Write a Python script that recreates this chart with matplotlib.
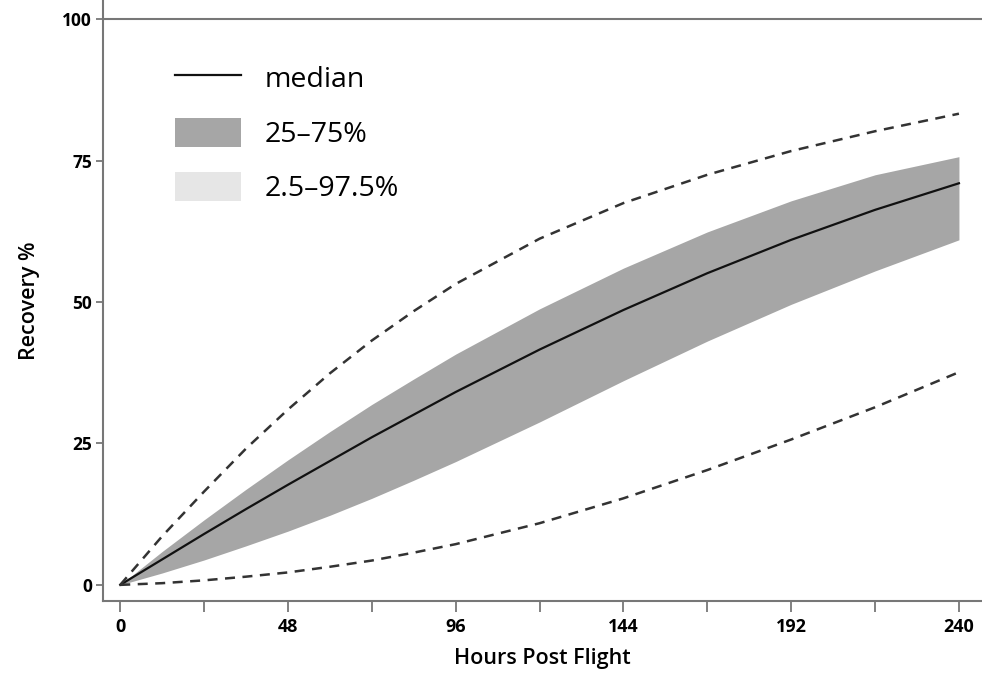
import numpy as np
import matplotlib.pyplot as plt
from matplotlib.patches import Patch
from matplotlib.lines import Line2D

# hours post flight
hours = [0, 12, 24, 36, 48, 60, 72, 84, 96, 120, 144, 168, 192, 216, 240]

median = [0, 4.5, 9, 13.4, 17.7, 21.9, 26.1, 30.1, 34.1, 41.6, 48.6, 55.1, 61.0, 66.3, 71.0]
q25 = [0, 2.1, 4.4, 6.9, 9.5, 12.3, 15.3, 18.5, 21.8, 28.8, 36.1, 43.1, 49.6, 55.5, 61.0]
q75 = [0, 5.9, 11.5, 16.9, 22.1, 27.1, 31.9, 36.4, 40.8, 48.8, 56.0, 62.4, 67.9, 72.5, 75.7]
p2_5 = [0, 0.3, 0.8, 1.45, 2.2, 3.2, 4.3, 5.7, 7.2, 10.9, 15.3, 20.3, 25.7, 31.4, 37.6]
p97_5 = [0, 8.6, 16.5, 24.1, 31.0, 37.4, 43.2, 48.4, 53.2, 61.2, 67.5, 72.5, 76.7, 80.2, 83.3]

xticks = [0, 48, 96, 144, 192, 240]
yticks = [0, 25, 50, 75, 100]

plt.rcParams['font.family'] = ['Open Sans', 'DejaVu Sans']

fig = plt.figure(figsize=(9.82, 6.73), dpi=100)
ax = fig.add_axes([0.105, 0.107, 0.895, 0.893])

ax.fill_between(hours, q25, q75, color='#a6a6a6', lw=0)
ax.plot(hours, median, color='#111111', lw=1.6)
ax.plot(hours, p2_5, color='#333333', lw=1.8, ls=(0, (4, 3)))
ax.plot(hours, p97_5, color='#333333', lw=1.8, ls=(0, (4, 3)))
ax.axhline(100, color='#777777', lw=1.5)

ax.set_xlim(-4.9, 246.6)
ax.set_ylim(-2.85, 103.4)

for s in ['top', 'right']:
    ax.spines[s].set_visible(False)
for s in ['left', 'bottom']:
    ax.spines[s].set_color('#777777')
    ax.spines[s].set_linewidth(1.5)

ax.set_xticks(xticks)
ax.set_xticks([24, 72, 120, 168, 216], minor=True)
ax.set_yticks(yticks)
ax.tick_params(axis='x', which='both', length=8, width=1.3, color='#777777',
               labelsize=13, pad=4)
ax.tick_params(axis='y', length=5, width=1.3, color='#777777', labelsize=12.5, pad=3)
for lab in ax.get_xticklabels() + ax.get_yticklabels():
    lab.set_fontweight('bold')

ax.set_xlabel('Hours Post Flight', fontsize=15.5, fontweight='semibold', labelpad=9)
ax.set_ylabel('Recovery %', fontsize=15.5, fontweight='semibold', labelpad=16)

handles = [Line2D([], [], color='#111111', lw=1.6),
           Patch(facecolor='#a6a6a6', edgecolor='none'),
           Patch(facecolor='#e6e6e6', edgecolor='none')]
ax.legend(handles, ['median', '25\u201375%', '2.5\u201397.5%'],
          loc='upper left', bbox_to_anchor=(0.082, 0.895), frameon=False,
          fontsize=20.5, borderpad=0, borderaxespad=0, handlelength=2.3,
          handleheight=1.2, handletextpad=0.85, labelspacing=0.82)

fig.savefig('out.png', dpi=100)
